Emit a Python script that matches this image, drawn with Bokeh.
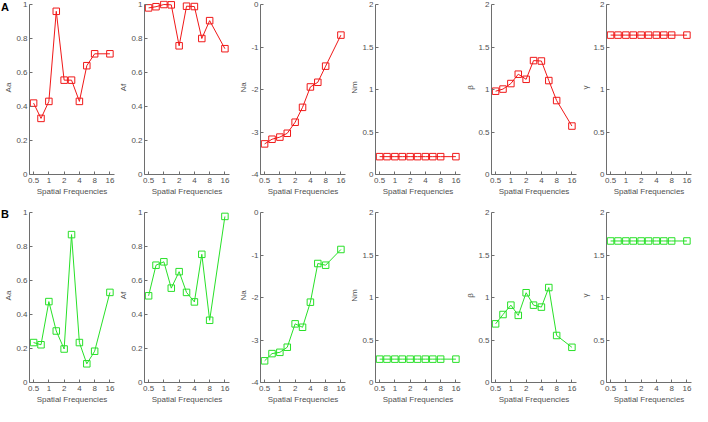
from bokeh.plotting import figure
from bokeh.layouts import gridplot, column
from bokeh.models import FixedTicker, Range1d, CustomJSTickFormatter, Div
from bokeh.embed import file_html
from bokeh.resources import INLINE

# ---------------- data ----------------
freqs = [0.5, 0.7, 1, 1.4, 2, 2.8, 4, 5.6, 8, 16]
x_ticks = [0.5, 1, 2, 4, 8, 16]
x_label = "Spatial Frequencies"

param_names = ["Aa", "Af", "Na", "Nm", "β", "γ"]
param_ranges = [(0, 1), (0, 1), (-4, 0), (0, 2), (0, 2), (0, 2)]
param_ticks = [
    [0, 0.2, 0.4, 0.6, 0.8, 1],
    [0, 0.2, 0.4, 0.6, 0.8, 1],
    [-4, -3, -2, -1, 0],
    [0, 0.5, 1, 1.5, 2],
    [0, 0.5, 1, 1.5, 2],
    [0, 0.5, 1, 1.5, 2],
]

A_Aa = [0.42, 0.33, 0.43, 0.96, 0.555, 0.555, 0.43, 0.64, 0.71, 0.71]
A_Af = [0.98, 0.987, 1.0, 0.998, 0.757, 0.99, 0.988, 0.80, 0.905, 0.74]
A_Na = [-3.28, -3.17, -3.12, -3.03, -2.77, -2.42, -1.94, -1.83, -1.45, -0.72]
A_Nm = [0.21, 0.21, 0.21, 0.21, 0.21, 0.21, 0.21, 0.21, 0.21, 0.21]
A_beta = [0.98, 1.005, 1.07, 1.18, 1.12, 1.34, 1.335, 1.105, 0.87, 0.57]
A_gamma = [1.64, 1.64, 1.64, 1.64, 1.64, 1.64, 1.64, 1.64, 1.64, 1.64]

B_Aa = [0.235, 0.222, 0.476, 0.303, 0.197, 0.87, 0.235, 0.11, 0.184, 0.53]
B_Af = [0.51, 0.69, 0.71, 0.555, 0.652, 0.53, 0.474, 0.754, 0.366, 0.977]
B_Na = [-3.49, -3.32, -3.29, -3.17, -2.62, -2.70, -2.11, -1.20, -1.24, -0.87]
B_Nm = [0.275, 0.275, 0.275, 0.275, 0.275, 0.275, 0.275, 0.275, 0.275, 0.275]
B_beta = [0.69, 0.80, 0.91, 0.79, 1.056, 0.91, 0.887, 1.117, 0.553, 0.414]
B_gamma = [1.665, 1.665, 1.665, 1.665, 1.665, 1.665, 1.665, 1.665, 1.665, 1.665]

row_labels = ["A", "B"]
row_series = [
    [A_Aa, A_Af, A_Na, A_Nm, A_beta, A_gamma],
    [B_Aa, B_Af, B_Na, B_Nm, B_beta, B_gamma],
]
row_colors = ["#f01818", "#28e028"]

# ---------------- layout ----------------
col_left = [29, 29, 29, 29, 29, 29]
col_frame = [85, 85, 85, 85, 85, 85]
col_right = [1, 2, 1, 2, 1, 1]
data_h = 170
pad_px = 4
row_top = [0, 10]
row_bottom = [24, 24]
label_top = [1, 208]

FONT = "Liberation Sans"
TXT = "#505050"
AX = "#6e6e6e"

fmt_code = "return tick.toString();"

figs = []
for r in range(2):
    row = []
    for c in range(6):
        y0, y1 = param_ranges[c]
        pad = (y1 - y0) * pad_px / data_h
        w = col_left[c] + col_frame[c] + col_right[c]
        h = row_top[r] + pad_px + data_h + row_bottom[r]
        p = figure(width=w, height=h, x_axis_type="log",
                   x_range=Range1d(0.415, 19.7), y_range=Range1d(y0, y1 + pad),
                   output_backend="svg", toolbar_location=None,
                   min_border_left=col_left[c], min_border_right=col_right[c],
                   min_border_top=row_top[r], min_border_bottom=row_bottom[r])
        p.outline_line_color = None
        p.xgrid.visible = False
        p.ygrid.visible = False
        p.background_fill_color = "white"
        p.border_fill_color = "white"

        p.xaxis.ticker = FixedTicker(ticks=x_ticks, minor_ticks=[])
        p.yaxis.ticker = FixedTicker(ticks=param_ticks[c], minor_ticks=[])
        p.xaxis.formatter = CustomJSTickFormatter(code=fmt_code)
        p.yaxis.formatter = CustomJSTickFormatter(code=fmt_code)
        p.yaxis.bounds = (y0, y1)
        p.xaxis.axis_label = x_label
        p.yaxis.axis_label = param_names[c]
        for ax in (p.xaxis, p.yaxis):
            ax.axis_line_color = AX
            ax.axis_line_width = 1
            ax.major_tick_line_color = AX
            ax.major_tick_in = 3
            ax.major_tick_out = 0
            ax.minor_tick_in = 0
            ax.minor_tick_out = 0
            ax.major_label_text_font = FONT
            ax.major_label_text_font_size = "8px"
            ax.major_label_text_color = TXT
            ax.axis_label_text_font = FONT
            ax.axis_label_text_font_size = "8px"
            ax.axis_label_text_font_style = "normal"
            ax.axis_label_text_color = TXT
        p.yaxis.major_label_standoff = 2
        p.yaxis.axis_label_standoff = 0
        p.xaxis.major_label_standoff = 3
        p.xaxis.axis_label_standoff = 1

        ys = row_series[r][c]
        col = row_colors[r]
        p.line(freqs, ys, line_color=col, line_width=1)
        p.scatter(freqs, ys, marker="square", size=6.5, fill_color=None,
                  line_color=col, line_width=1)
        row.append(p)
    figs.append(row)

grid = gridplot(figs, toolbar_location=None)

letters = []
for r in range(2):
    letters.append(Div(text=row_labels[r], width=14, height=14,
                       styles={"position": "absolute", "left": "1px",
                               "top": "%dpx" % label_top[r],
                               "font-family": FONT, "font-weight": "bold",
                               "font-size": "11px", "line-height": "12px",
                               "color": "black", "margin": "0", "padding": "0"}))

page = column(grid, *letters)

open("out.html", "w").write(file_html(page, INLINE))
